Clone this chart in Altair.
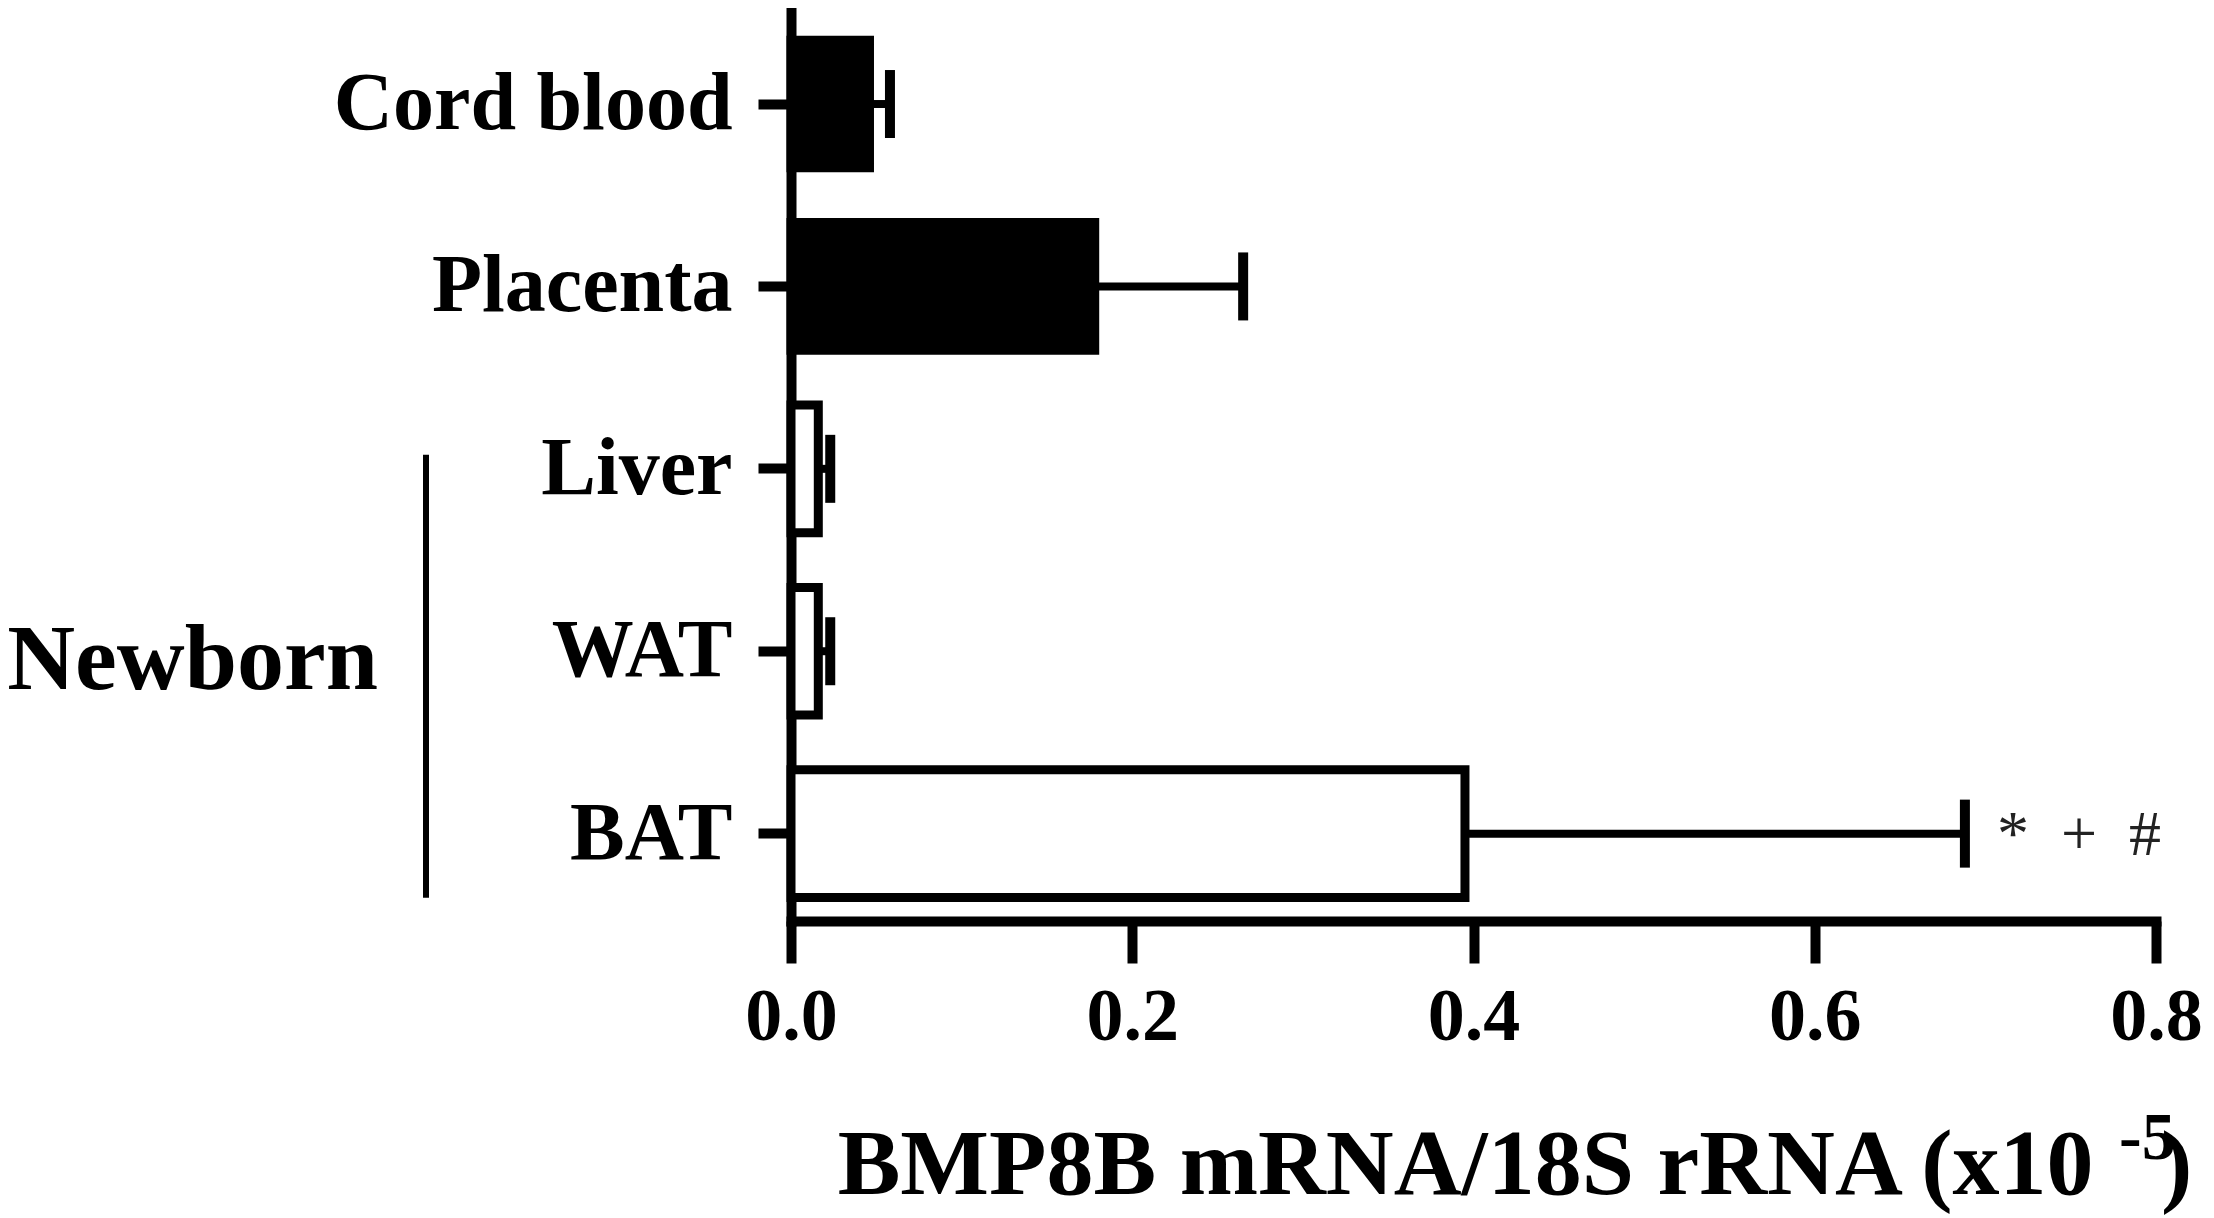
import altair as alt
import pandas as pd

# ---- data ----
categories = ["Cord blood", "Placenta", "Liver", "WAT", "BAT"]
groups = ["Maternal", "Maternal", "Newborn", "Newborn", "Newborn"]
means = [0.046, 0.178, 0.016, 0.016, 0.395]
uppers = [0.058, 0.265, 0.023, 0.023, 0.688]
x_ticks = [0.0, 0.2, 0.4, 0.6, 0.8]
note_category = ["BAT"]
note_x = [0.688]
note_text = ["*\u00a0\u00a0+\u00a0\u00a0#"]
bracket_start = ["Liver"]
bracket_end = ["BAT"]
bracket_mid = ["WAT"]
bracket_label = ["Newborn"]
x_title_main = "BMP8B mRNA/18S rRNA (x10"
x_title_exp = ["-5"]
x_title_close = [")"]

df = pd.DataFrame({"category": categories, "group": groups, "mean": means, "upper": uppers})
notes = pd.DataFrame({"category": note_category, "upper": note_x, "note": note_text})
bracket = pd.DataFrame({"start": bracket_start, "end": bracket_end, "mid": bracket_mid, "label": bracket_label})
exp_df = pd.DataFrame({"t": x_title_exp})
close_df = pd.DataFrame({"t": x_title_close})

FONT = "Liberation Serif"
W, H = 1365, 912

yscale = alt.Scale(domain=categories, paddingInner=0.3, paddingOuter=0.15, align=0.57)
xscale = alt.Scale(domain=[0, 0.8], nice=False, zero=True)

y_axis = alt.Axis(
    title=None, labelFont=FONT, labelFontSize=82, labelFontWeight="bold", labelColor="black",
    labelPadding=26, labelLimit=0, tickSize=33, tickWidth=10, tickColor="black",
    domainColor="black", domainWidth=10, domainCap="square", grid=False,
)
x_axis = alt.Axis(
    values=x_ticks, format=".1f", labelFont=FONT, labelFontSize=74, labelFontWeight="bold",
    labelColor="black", labelPadding=18, labelFlush=False, tickSize=42, tickWidth=10,
    tickColor="black", domainColor="black", domainWidth=10, domainCap="square", grid=False,
    title=x_title_main, titleFont=FONT, titleFontSize=94, titleFontWeight="bold", titleColor="black",
    titleAlign="right", titleX=1302, titleY=272, titleBaseline="alphabetic", titleAngle=0,
)

base = alt.Chart(df)

err = base.mark_rule(color="black", strokeWidth=8).encode(
    y=alt.Y("category:N", sort=categories, scale=yscale, axis=y_axis),
    x=alt.X("mean:Q", scale=xscale, axis=x_axis),
    x2="upper:Q",
)
caps = base.mark_tick(color="black", size=68, thickness=10, opacity=1).encode(
    y=alt.Y("category:N", sort=categories, scale=yscale, axis=y_axis),
    x=alt.X("upper:Q", scale=xscale, axis=x_axis),
)
bars = base.mark_bar(stroke="black", strokeWidth=9, fillOpacity=1).encode(
    y=alt.Y("category:N", sort=categories, scale=yscale, axis=y_axis),
    x=alt.X("mean:Q", scale=xscale, axis=x_axis),
    fill=alt.Fill("group:N", scale=alt.Scale(domain=["Maternal", "Newborn"], range=["black", "white"]), legend=None),
)
note = alt.Chart(notes).mark_text(
    align="left", baseline="middle", dx=32, dy=2, font=FONT, fontSize=64, color="#222"
).encode(
    y=alt.Y("category:N", scale=yscale, axis=y_axis),
    x=alt.X("upper:Q", scale=xscale, axis=x_axis),
    text="note:N",
)
bracket_line = alt.Chart(bracket).mark_rule(color="black", strokeWidth=6, yOffset=-14, y2Offset=64).encode(
    y=alt.Y("start:N", scale=yscale, axis=y_axis),
    y2="end:N",
    x=alt.value(-365),
)
bracket_text = alt.Chart(bracket).mark_text(
    align="right", baseline="middle", dy=10, font=FONT, fontSize=94, fontWeight="bold", color="black"
).encode(
    y=alt.Y("mid:N", scale=yscale, axis=y_axis),
    x=alt.value(-413),
    text="label:N",
)
title_exp = alt.Chart(exp_df).mark_text(
    align="left", baseline="alphabetic", font=FONT, fontSize=68, fontWeight="bold", color="black"
).encode(x=alt.value(1328), y=alt.value(1150), text="t:N")
title_close = alt.Chart(close_df).mark_text(
    align="left", baseline="alphabetic", font=FONT, fontSize=94, fontWeight="bold", color="black"
).encode(x=alt.value(1370), y=alt.value(1186), text="t:N")

chart = alt.layer(err, caps, bars, note, bracket_line, bracket_text, title_exp, title_close).properties(
    width=W, height=H,
    padding={"left": 783, "top": 1, "right": 50, "bottom": 296},
    autosize=alt.AutoSizeParams(type="none"),
    background="white",
).configure_view(stroke=None)

chart.save("out.html", embed_options={"renderer": "svg", "actions": False})
